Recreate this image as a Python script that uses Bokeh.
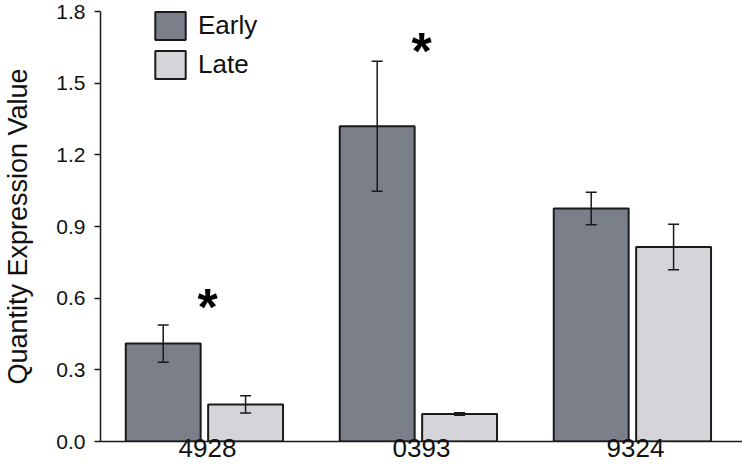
from bokeh.plotting import figure
from bokeh.models import (ColumnDataSource, FactorRange, Whisker, TeeHead,
                          FixedTicker, NumeralTickFormatter, Range1d)
from bokeh.transform import dodge
from bokeh.core.properties import value
from bokeh.embed import file_html
from bokeh.resources import INLINE

# ---- data ----
genes = ["4928", "0393", "9324"]
early = [0.41, 1.32, 0.975]
early_err = [0.078, 0.272, 0.068]
late = [0.155, 0.115, 0.814]
late_err = [0.036, 0.005, 0.095]
sig_genes = ["4928", "0393"]
sig_y = [0.59, 1.66]
y_ticks = [0.0, 0.3, 0.6, 0.9, 1.2, 1.5, 1.8]

EARLY_C = "#7a7f8a"
LATE_C = "#d5d4d9"
EDGE = "#1a1a1a"
TXT = "#111111"
FONT = "Liberation Sans"

src = ColumnDataSource(dict(
    gene=genes,
    early=early, early_lo=[v - e for v, e in zip(early, early_err)],
    early_hi=[v + e for v, e in zip(early, early_err)],
    late=late, late_lo=[v - e for v, e in zip(late, late_err)],
    late_hi=[v + e for v, e in zip(late, late_err)],
))

p = figure(width=742, height=467, output_backend="svg", toolbar_location=None,
           x_range=FactorRange(factors=genes, range_padding=0),
           y_range=Range1d(0, 1.8),
           min_border_left=100, min_border_right=0, min_border_top=11, min_border_bottom=26)
p.outline_line_color = None
p.xgrid.visible = False
p.ygrid.visible = False
p.background_fill_color = "white"

bw = 0.35
p.vbar(x=dodge("gene", -0.207, range=p.x_range), top="early", width=bw, source=src,
       fill_color=EARLY_C, line_color=EDGE, line_width=2, legend_label="Early")
p.vbar(x=dodge("gene", 0.178, range=p.x_range), top="late", width=bw, source=src,
       fill_color=LATE_C, line_color=EDGE, line_width=2, legend_label="Late")

for off, lo, hi in [(-0.207, "early_lo", "early_hi"), (0.178, "late_lo", "late_hi")]:
    w = Whisker(base=dodge("gene", off, range=p.x_range), lower=lo, upper=hi, source=src,
                line_color=EDGE, line_width=1.5, level="overlay",
                upper_head=TeeHead(size=11, line_color=EDGE, line_width=1.5),
                lower_head=TeeHead(size=11, line_color=EDGE, line_width=1.5))
    p.add_layout(w)

# significance stars
sig_src = ColumnDataSource(dict(gene=sig_genes, y=sig_y, t=["*"] * len(sig_genes)))
p.text(x="gene", y="y", text="t", source=sig_src, text_font=value(FONT),
       text_font_style="bold", text_font_size="52px", text_align="center",
       text_baseline="middle", y_offset=6, text_color="black")

# axes
yax = p.yaxis[0]
yax.ticker = FixedTicker(ticks=y_ticks)
yax.formatter = NumeralTickFormatter(format="0.0")
yax.major_label_text_font = FONT
yax.major_label_text_font_size = "21px"
yax.major_label_text_color = TXT
yax.major_label_standoff = 9
yax.major_tick_out = 6
yax.major_tick_in = 0
yax.minor_tick_line_color = None
yax.axis_line_color = EDGE
yax.axis_line_width = 1.5
yax.major_tick_line_color = EDGE
yax.major_tick_line_width = 1.5
yax.axis_label = "Quantity Expression Value"
yax.axis_label_text_font = FONT
yax.axis_label_text_font_size = "27px"
yax.axis_label_text_font_style = "normal"
yax.axis_label_text_color = TXT
yax.axis_label_standoff = 20

xax = p.xaxis[0]
xax.major_tick_line_color = None
xax.major_tick_out = 0
xax.minor_tick_line_color = None
xax.axis_line_color = EDGE
xax.axis_line_width = 1.5
xax.major_label_text_font = FONT
xax.major_label_text_font_size = "26px"
xax.major_label_text_color = TXT
xax.major_label_standoff = -3

# legend
lg = p.legend[0]
lg.location = (51, 359)
lg.orientation = "vertical"
lg.glyph_width = 38
lg.glyph_height = 35
lg.label_text_font = FONT
lg.label_text_font_size = "26px"
lg.label_text_color = TXT
lg.label_standoff = 9
lg.spacing = 4
lg.padding = 0
lg.margin = 0
lg.border_line_color = None
lg.background_fill_alpha = 0

open("out.html", "w").write(file_html(p, INLINE))
